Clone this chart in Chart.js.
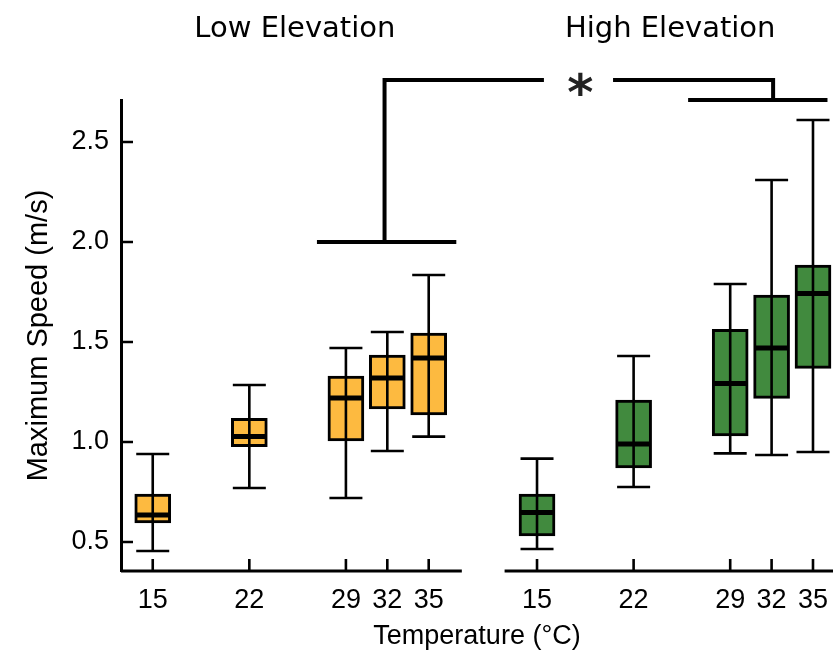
<!DOCTYPE html>
<html>
<head>
<meta charset="utf-8">
<script src="https://cdn.jsdelivr.net/npm/chart.js@4.4.1/dist/chart.umd.min.js"></script>
<style>
  html, body { margin: 0; padding: 0; background: #fff; }
</style>
</head>
<body>
<canvas id="myChart" width="835" height="666"></canvas>
<script>
const temps = [15, 22, 29, 32, 35];
const highShift = 27.85; // high elevation panel is drawn to the right of the low one, same x scale

const lowMin = [0.455, 0.77, 0.72, 0.955, 1.027];
const lowQ1 = [0.595, 0.977, 1.005, 1.165, 1.135];
const lowMed = [0.635, 1.027, 1.22, 1.32, 1.42];
const lowQ3 = [0.74, 1.118, 1.33, 1.435, 1.545];
const lowMax = [0.94, 1.285, 1.47, 1.55, 1.835];

const highMin = [0.465, 0.775, 0.943, 0.935, 0.95];
const highQ1 = [0.53, 0.87, 1.03, 1.218, 1.368];
const highMed = [0.647, 0.99, 1.293, 1.47, 1.743];
const highQ3 = [0.74, 1.21, 1.563, 1.735, 1.885];
const highMax = [0.917, 1.43, 1.79, 2.31, 2.61];

const yTickValues = [0.5, 1.0, 1.5, 2.0, 2.5];
const panelTitles = ['Low Elevation', 'High Elevation'];
const panelTitleAt = [25.3, 52.5];

// significance brackets, in x-scale / speed units
const lowBracket = [26.9, 37.0, 31.8, 2.0];    // from, to, stem, level
const highBracket = [53.8, 63.9, 59.96, 2.71];
const topLevel = 2.81;
const topGap = [43.35, 48.36];
const starAt = [45.98, 2.795];

const xSegments = [[12.7, 37.4], [40.5, 64.3]];

const lowColor = '#FDBA40';
const highColor = '#418A3E';

Chart.defaults.color = '#000';
Chart.defaults.font.family = "'Liberation Sans', Arial, sans-serif";

function boxData(xs, q1, q3) {
    return xs.map((t, i) => ({ x: t, y: [q1[i], q3[i]] }));
}

const highTemps = temps.map(t => t + highShift);

const panels = [
    { xs: temps, min: lowMin, med: lowMed, max: lowMax },
    { xs: highTemps, min: highMin, med: highMed, max: highMax }
];

function fixHeight(h) {
    return s => {
        s.height = h;
        s.paddingLeft = 0;
        s.paddingRight = 0;
    };
}

const boxPlugin = {
    id: 'boxes',
    afterDatasetsDraw(chart) {
        const ctx = chart.ctx;
        const x = chart.scales.x;
        const y = chart.scales.y;
        ctx.save();
        ctx.strokeStyle = '#000';
        ctx.lineCap = 'butt';
        panels.forEach(p => {
            p.xs.forEach((t, i) => {
                const px = x.getPixelForValue(t);
                const yMin = y.getPixelForValue(p.min[i]);
                const yMax = y.getPixelForValue(p.max[i]);
                ctx.lineWidth = 2.6;
                ctx.beginPath();
                ctx.moveTo(px, yMin);
                ctx.lineTo(px, yMax);
                ctx.moveTo(px - 16.5, yMin);
                ctx.lineTo(px + 16.5, yMin);
                ctx.moveTo(px - 16.5, yMax);
                ctx.lineTo(px + 16.5, yMax);
                ctx.stroke();
                const yMed = y.getPixelForValue(p.med[i]);
                ctx.lineWidth = 5;
                ctx.beginPath();
                ctx.moveTo(px - 17, yMed);
                ctx.lineTo(px + 17, yMed);
                ctx.stroke();
            });
        });
        ctx.restore();
    },
    afterDraw(chart) {
        const ctx = chart.ctx;
        const x = chart.scales.x;
        const y = chart.scales.y;
        const base = chart.chartArea.bottom;
        const left = chart.chartArea.left;
        ctx.save();
        ctx.strokeStyle = '#000';
        ctx.lineWidth = 3;
        ctx.beginPath();
        xSegments.forEach(s => {
            ctx.moveTo(x.getPixelForValue(s[0]), base);
            ctx.lineTo(x.getPixelForValue(s[1]), base);
        });
        ctx.stroke();

        // inward tick marks
        ctx.lineWidth = 2.6;
        ctx.beginPath();
        x.ticks.forEach(t => {
            const px = x.getPixelForValue(t.value);
            ctx.moveTo(px, base);
            ctx.lineTo(px, base - 12);
        });
        y.ticks.forEach(t => {
            const py = y.getPixelForValue(t.value);
            ctx.moveTo(left, py);
            ctx.lineTo(left + 12, py);
        });
        ctx.stroke();

        // brackets
        ctx.lineWidth = 4;
        const top = y.getPixelForValue(topLevel);
        ctx.beginPath();
        ctx.moveTo(x.getPixelForValue(lowBracket[0]), y.getPixelForValue(lowBracket[3]));
        ctx.lineTo(x.getPixelForValue(lowBracket[1]), y.getPixelForValue(lowBracket[3]));
        ctx.moveTo(x.getPixelForValue(lowBracket[2]), y.getPixelForValue(lowBracket[3]));
        ctx.lineTo(x.getPixelForValue(lowBracket[2]), top);
        ctx.lineTo(x.getPixelForValue(topGap[0]), top);
        ctx.moveTo(x.getPixelForValue(topGap[1]), top);
        ctx.lineTo(x.getPixelForValue(highBracket[2]), top);
        ctx.lineTo(x.getPixelForValue(highBracket[2]), y.getPixelForValue(highBracket[3]));
        ctx.moveTo(x.getPixelForValue(highBracket[0]), y.getPixelForValue(highBracket[3]));
        ctx.lineTo(x.getPixelForValue(highBracket[1]), y.getPixelForValue(highBracket[3]));
        ctx.stroke();

        const size = 50;
        ctx.fillStyle = '#222';
        ctx.font = "bold " + size + "px 'DejaVu Sans'";
        ctx.textAlign = 'center';
        ctx.textBaseline = 'alphabetic';
        ctx.fillText('*', x.getPixelForValue(starAt[0]), y.getPixelForValue(starAt[1]) + 0.53 * size);
        ctx.restore();
    }
};

const myChart = new Chart(document.getElementById('myChart'), {
    type: 'bar',
    data: {
        datasets: [
            {
                label: 'Low Elevation',
                data: boxData(temps, lowQ1, lowQ3),
                backgroundColor: lowColor
            },
            {
                label: 'High Elevation',
                data: boxData(highTemps, highQ1, highQ3),
                backgroundColor: highColor
            }
        ]
    },
    options: {
        responsive: false,
        animation: false,
        devicePixelRatio: 1,
        layout: { padding: { left: 0, top: 0, right: 2, bottom: 0 } },
        datasets: {
            bar: {
                grouped: false,
                barThickness: 36,
                borderColor: '#000',
                borderWidth: 3,
                borderSkipped: false
            }
        },
        plugins: {
            legend: { display: false },
            tooltip: { enabled: false }
        },
        scales: {
            x: {
                type: 'linear',
                position: 'bottom',
                offset: false,
                min: 12.7,
                max: 64.3,
                afterBuildTicks: s => { s.ticks = temps.concat(highTemps).map(v => ({ value: v })); },
                afterFit: fixHeight(95),
                border: { display: false },
                grid: { display: false, drawTicks: false, offset: false },
                ticks: {
                    autoSkip: false,
                    maxRotation: 0,
                    padding: 13,
                    font: { size: 27 },
                    callback: v => String(Math.round(v > 40 ? v - highShift : v))
                },
                title: {
                    display: true,
                    text: 'Temperature (°C)',
                    font: { size: 27 },
                    padding: { top: 0, bottom: 13 }
                }
            },
            x2: {
                type: 'linear',
                position: 'top',
                offset: false,
                min: 12.7,
                max: 64.3,
                afterBuildTicks: s => { s.ticks = panelTitleAt.map(v => ({ value: v })); },
                afterFit: fixHeight(100),
                border: { display: false },
                grid: { display: false, offset: false },
                ticks: {
                    autoSkip: false,
                    maxRotation: 0,
                    padding: 45,
                    font: { family: "'DejaVu Sans'", size: 29 },
                    callback: (v, i) => panelTitles[i]
                }
            },
            y: {
                type: 'linear',
                position: 'left',
                min: 0.355,
                max: 2.71,
                afterBuildTicks: s => { s.ticks = yTickValues.map(v => ({ value: v })); },
                afterFit: s => { s.width = 121; },
                border: { display: true, color: '#000', width: 3 },
                grid: { display: false, drawTicks: false },
                ticks: {
                    padding: 12,
                    font: { size: 27 },
                    callback: v => v.toFixed(1)
                },
                title: {
                    display: true,
                    text: 'Maximum Speed (m/s)',
                    font: { size: 29 },
                    padding: { top: 22, bottom: 0 }
                }
            }
        }
    },
    plugins: [boxPlugin]
});
</script>
</body>
</html>
